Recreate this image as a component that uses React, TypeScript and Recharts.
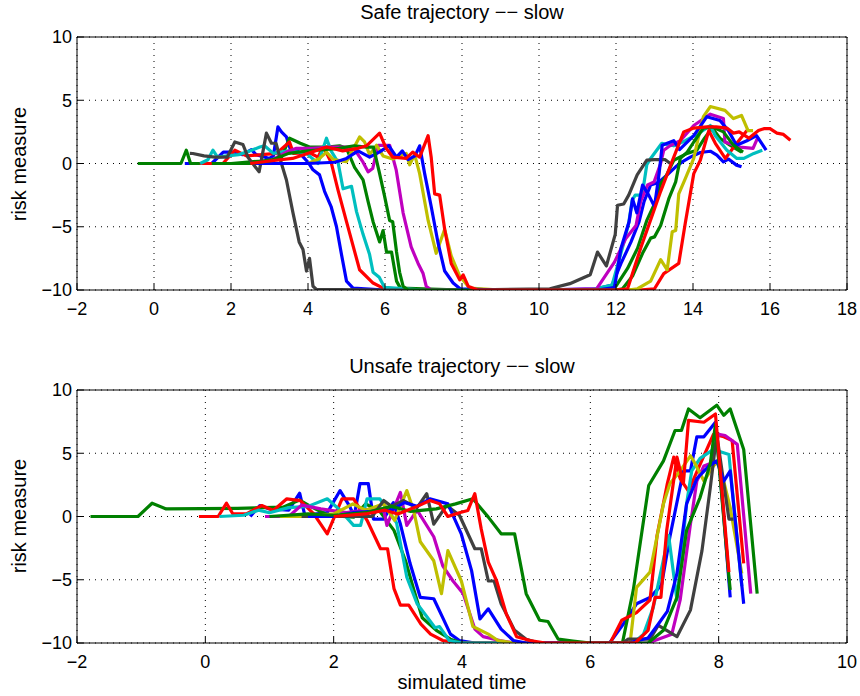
import { CartesianGrid, Line, LineChart, XAxis, YAxis } from "recharts";

type Pt = [number, number];

// axis ticks
const SAFE_X_TICKS = [-2, 0, 2, 4, 6, 8, 10, 12, 14, 16, 18];
const UNSAFE_X_TICKS = [-2, 0, 2, 4, 6, 8, 10];
const Y_TICKS = [-10, -5, 0, 5, 10];

// MATLAB default colour order (k drawn as dark grey)
const B = "#0000ff";
const G = "#008000";
const R = "#ff0000";
const C = "#00bfbf";
const M = "#bf00bf";
const Y = "#bfbf00";
const K = "#404040";

// ---- Safe trajectory: [simulated time, risk measure] ----
const safeBlue1: Pt[] = [
  [0.8, 0], [1.5, 0], [1.8, 0.9], [2.1, 0.9], [2.3, 0.7], [2.53, 1.1], [2.65, 0.7], [3.0, 0.4],
  [3.1, 0.6], [3.22, 2.9], [3.31, 2.5], [3.44, 2.1], [3.55, 1.05], [3.7, 1.1], [3.85, 0.6],
  [4.0, 0.1], [4.13, -0.5], [4.3, -0.9], [4.43, -2.2], [4.6, -3.4], [4.74, -5], [4.87, -7.2],
  [5.0, -9.3], [5.17, -9.85], [6, -10], [10, -10], [11.5, -9.9], [11.9, -9.6], [12.13, -7.9],
  [12.39, -6.2], [12.6, -4.6], [12.73, -3.0], [12.9, -1.7], [13.1, -1.5], [13.33, -0.9],
  [13.55, -0.26], [13.72, 0.13], [13.93, 0.5], [14.19, 0.87], [14.45, 0.97], [14.62, 0.66],
  [14.79, 0.13], [14.92, 0.35], [15.13, -0.13], [15.26, -0.26],
];
const safeGreen1: Pt[] = [
  [-0.42, 0], [0.7, 0], [0.84, 1.05], [0.95, 0], [2, 0], [2.8, 0.2], [3.3, 0.4], [3.52, 2.0],
  [3.8, 1.6], [4.04, 1.3], [4.5, 1.3], [4.82, 1.4], [5.0, 1.2], [5.21, -0.3], [5.43, -1.3],
  [5.56, -3.0], [5.69, -4.6], [5.86, -6.2], [5.95, -5.3], [6.04, -7.0], [6.17, -7.0],
  [6.3, -9.3], [6.4, -9.85], [8, -10], [11.6, -10], [12.0, -9.7], [12.3, -8.3], [12.56, -6.7],
  [12.8, -4.5], [13.03, -3.0], [13.16, -1.6], [13.3, -1.0], [13.5, 0.26], [13.85, 0.8],
  [14.1, 1.05], [14.3, 2.0], [14.5, 2.8], [14.7, 2.0], [14.96, 1.45], [15.26, 0.9],
];
const safeRed1: Pt[] = [
  [1.19, 0], [1.79, 0], [2.1, 1.05], [2.4, 0.6], [2.8, 0.7], [3.18, 0.8], [3.52, 1.7],
  [3.62, 0.8], [4.04, 0.85], [4.26, 0.5], [4.39, 1.3], [4.5, 0.7], [4.6, 0.1], [4.78, -2.1],
  [5.0, -4.6], [5.34, -8.4], [5.69, -9.45], [5.95, -9.85], [7, -10], [12.6, -10], [13.0, -9.9],
  [13.24, -8.7], [13.63, -7.9], [13.8, -4.7], [14.02, -0.8], [14.19, 0.26], [14.41, 2.6],
  [14.58, 1.6], [14.84, 0.4], [15.06, 1.3], [15.4, 2.6],
];
const safeCyan: Pt[] = [
  [1.2, 0], [1.4, 0.3], [1.53, 1.05], [1.65, 0.5], [1.9, 0.6], [2.2, 0.7], [2.5, 1.0],
  [2.75, 1.3], [2.87, 1.4], [3.1, 0.8], [3.5, 1.0], [3.96, 0.8], [4.26, 0], [4.48, 2.0],
  [4.6, 1.0], [4.78, 0.1], [4.91, -2.0], [5.13, -1.8], [5.26, -3.8], [5.43, -5.6], [5.6, -7.2],
  [5.69, -8.6], [5.85, -9.0], [5.99, -9.8], [7, -10], [11.3, -10], [11.9, -9.6], [12.2, -6.3],
  [12.33, -4.7], [12.42, -2.9], [12.5, -2.5], [12.68, -2.5], [12.8, -0.1], [12.9, 0.4],
  [13.19, 1.6], [13.32, 1.5], [13.5, 1.4], [13.8, 1.8], [14.1, 2.3], [14.45, 3.0], [14.58, 2.2],
  [14.88, 1.05], [15.14, 0.4], [15.32, 0.4], [15.58, 0.8], [15.8, 1.05],
];
const safeMagenta: Pt[] = [
  [2.44, 0], [2.9, 0], [3.2, 0.5], [3.44, 0.9], [3.7, 1.2], [4.1, 1.2], [4.6, 1.3], [5.17, 1.3],
  [5.43, 0.1], [5.56, -0.66], [5.68, -0.4], [5.82, 1.44], [6.12, 1.44], [6.29, -0.5],
  [6.47, -3.9], [6.68, -6.6], [6.86, -7.9], [6.99, -8.7], [7.07, -9.7], [7.2, -10], [10, -10],
  [11.5, -9.9], [11.96, -7.8], [12.26, -5.9], [12.52, -4.9], [12.64, -3.0], [12.82, -1.7],
  [12.99, -1.45], [13.16, 0], [13.24, 1.05], [13.4, 1.4], [13.67, 1.8], [14.02, 3.0],
  [14.45, 3.9], [14.79, 3.55], [14.83, 1.7], [15.22, 1.3], [15.56, 1.2], [15.69, 2.1],
];
const safeYellow: Pt[] = [
  [2.92, 0], [4.0, 0], [4.3, 0.4], [4.48, 0.9], [4.66, 0.3], [5.0, 0.15], [5.34, 2.1],
  [5.47, 1.7], [5.6, 0.7], [5.78, 1.44], [5.95, 0.6], [6.2, 0.35], [6.55, 0.8], [6.64, -0.1],
  [6.77, 0.7], [6.9, -0.8], [7.12, -4.5], [7.33, -7.1], [7.55, -5.2], [7.72, -7.3],
  [7.94, -8.9], [8.2, -9.85], [9, -10], [12.3, -10], [12.56, -9.9], [12.9, -9.3], [13.16, -7.6],
  [13.33, -8.4], [13.46, -5.4], [13.55, -5.3], [13.63, -2.4], [13.8, -1.2], [14.02, 0.4],
  [14.15, 2.2], [14.27, 3.7], [14.45, 4.5], [14.83, 4.2], [15.05, 3.55], [15.26, 3.8],
  [15.43, 2.6], [15.56, 2.6],
];
const safeGray: Pt[] = [
  [0.93, 0.8], [1.01, 0.79], [1.3, 0.6], [1.58, 0.5], [1.9, 0.5], [2.1, 1.7], [2.31, 1.5],
  [2.44, 0.5], [2.73, -0.66], [2.92, 2.4], [3.05, 1.6], [3.17, 1.6], [3.31, 0], [3.44, -1.3],
  [3.61, -3.9], [3.77, -6.2], [3.87, -6.8], [3.96, -8.5], [4.04, -7.5], [4.13, -9.7],
  [4.22, -9.95], [6, -10], [8, -10], [10.28, -9.9], [10.8, -9.5], [11.33, -8.8], [11.52, -7.0],
  [11.75, -8.1], [11.98, -5.6], [12.04, -3.3], [12.2, -3.2], [12.33, -2.5], [12.55, -0.9],
  [12.8, 0.26], [13.0, 0.3], [13.28, 0.3], [13.41, 0],
];
const safeBlue2: Pt[] = [
  [2.0, 0], [3.0, 0], [4.0, 0], [4.7, 0.1], [5.0, 0.4], [5.3, 1.0], [5.6, 0.5], [5.85, 0.9],
  [6.1, 1.4], [6.3, 0.5], [6.45, 1.0], [6.6, 0.3], [6.78, 0.6], [6.9, 1.4], [7.03, -0.8],
  [7.2, -3.4], [7.38, -6.3], [7.55, -8.5], [7.77, -9.45], [7.95, -9.9], [9, -10], [11.5, -10],
  [11.96, -9.8], [12.13, -6.7], [12.34, -4.6], [12.43, -2.8], [12.54, -3.9], [12.69, -1.7],
  [12.85, -2.5], [13.0, -3.4], [13.12, -0.8], [13.2, 1.45], [13.33, 1.6], [13.5, 1.8],
  [13.65, 1.1], [14.02, 2.2], [14.36, 3.7], [14.7, 3.4], [14.92, 2.6], [15.13, 1.45],
  [15.4, 1.8], [15.65, 2.2], [15.9, 1.05],
];
const safeGreen2: Pt[] = [
  [1.5, 0], [2.5, 0], [3.0, 0.2], [3.5, 0.8], [4.0, 1.0], [4.8, 1.2], [5.2, 1.4], [5.52, 1.3],
  [5.7, 1.3], [5.86, -0.8], [5.99, -2.6], [6.12, -4.5], [6.2, -4.6], [6.3, -7.0], [6.38, -8.6],
  [6.47, -9.7], [6.6, -10], [8, -10], [12.0, -10], [12.17, -9.9], [12.43, -8.9], [12.69, -7.1],
  [12.9, -5.9], [13.0, -5.8], [13.16, -4.9], [13.37, -2.8], [13.55, -1.45], [13.67, 0.4],
  [13.85, 0.9], [14.02, 1.7], [14.27, 2.8], [14.49, 2.9], [14.79, 2.5], [15.05, 1.45],
  [15.3, 0.9],
];
const safeRed2: Pt[] = [
  [2.5, 0], [3.0, 0.2], [3.6, 0.4], [4.2, 1.0], [4.48, 1.3], [4.9, 1.0], [5.3, 1.2],
  [5.52, 1.4], [5.86, 2.4], [6.03, 1.2], [6.2, 0.5], [6.55, 0.4], [6.72, 0.9], [6.9, 0.5],
  [7.12, 2.2], [7.2, 0.5], [7.29, -2.4], [7.42, -2.5], [7.55, -5.2], [7.72, -7.9],
  [7.94, -9.2], [8.03, -8.8], [8.16, -9.7], [8.4, -10], [12.0, -10], [12.3, -9.9],
  [12.64, -6.7], [12.94, -4.1], [13.16, -2.2], [13.42, -0.13], [13.59, 1.2], [13.76, 2.5],
  [14.02, 2.8], [14.36, 2.9], [14.6, 2.9], [14.88, 2.8], [15.05, 2.4], [15.2, 2.5],
  [15.45, 2.0], [15.7, 2.6], [15.84, 2.75], [16.0, 2.75], [16.18, 2.4], [16.35, 2.3],
  [16.53, 1.84],
];

// ---- Unsafe trajectory ----
const unsafeBlue1: Pt[] = [
  [0.7, 0], [0.85, 0.87], [1.0, 0.6], [1.3, 0.5], [1.47, 1.84], [1.55, 0.1], [1.9, 0.3],
  [2.1, 2.05], [2.25, 0.8], [2.32, 0], [2.41, 2.6], [2.54, 2.6], [2.62, -0.2], [2.78, -0.2],
  [2.93, 1.1], [3.04, -0.6], [3.19, -3.7], [3.35, -6.4], [3.56, -6.5], [3.69, -7.9],
  [3.82, -9.3], [3.96, -9.8], [4.2, -10], [6.3, -10], [6.5, -8.6], [6.72, -6.9], [6.93, -6.4],
  [7.11, -5.4], [7.24, -1.6], [7.45, 3.6], [7.56, 3.6], [7.66, 6.3], [7.77, 6.3], [7.95, 7.45],
  [8.08, 0], [8.18, -6.4],
];
const unsafeGreen1: Pt[] = [
  [-1.79, 0], [-1.05, 0], [-0.83, 1.05], [-0.61, 0.6], [0.5, 0.65], [1.21, 0.74], [1.47, 1.3],
  [1.66, 0.74], [1.92, 0.08], [2.31, -0.05], [2.5, 1.0], [2.73, 0.34], [2.94, -1.1],
  [3.12, -3.5], [3.25, -5.8], [3.38, -8.0], [3.6, -9.0], [3.82, -9.7], [4.0, -10], [6.5, -10],
  [6.67, -5.8], [6.91, 2.45], [7.14, 4.4], [7.32, 6.8], [7.42, 6.8], [7.53, 8.5], [7.71, 7.8],
  [7.97, 8.8], [8.08, 8.0], [8.18, 8.5], [8.39, 5.3], [8.6, -6.1],
];
const unsafeRed1: Pt[] = [
  [-0.1, 0], [0.2, 0], [0.33, 1.05], [0.43, 0.2], [0.64, 0.2], [0.88, 0.87], [1.06, 0.47],
  [1.27, 1.4], [1.48, 1.26], [1.69, 0.2], [1.9, -1.37], [2.13, 1.4], [2.31, 1.4], [2.52, -0.3],
  [2.73, -2.55], [2.84, -2.55], [2.94, -5.7], [3.04, -7.0], [3.17, -7.0], [3.36, -8.5],
  [3.51, -9.3], [3.7, -9.8], [4.0, -10], [6.31, -10], [6.49, -8.2], [6.72, -7.6], [6.93, -6.6],
  [7.04, -1.5], [7.2, 2.6], [7.3, 4.7], [7.4, 3.0], [7.53, 2.0], [7.7, 4.0], [7.92, 6.5],
  [8.08, 6.3], [8.21, 6.0], [8.39, -3.7],
];
const unsafeCyan: Pt[] = [
  [0.22, 0], [0.6, 0.1], [0.83, 0.5], [1.0, 0.3], [1.3, 0.7], [1.6, 0.8], [1.9, 1.4],
  [2.1, 0.5], [2.31, -0.7], [2.42, -0.7], [2.52, 1.4], [2.72, 1.4], [2.98, -0.5], [3.14, -4.8],
  [3.3, -6.9], [3.45, -7.9], [3.58, -8.8], [3.65, -8.7], [3.8, -9.8], [4.0, -10], [6.67, -10],
  [6.83, -9.3], [6.98, -7.2], [7.22, -1.5], [7.35, -6.6], [7.5, 1.0], [7.58, 3.6], [7.71, 4.6],
  [7.92, 5.3], [8.16, 4.9], [8.36, -5.5],
];
const unsafeMagenta: Pt[] = [
  [0.93, 0], [1.3, 0], [1.5, 0.9], [1.8, 0.6], [2.2, 0.3], [2.6, 0.6], [2.78, 0.5],
  [2.83, -0.7], [3.04, 1.9], [3.14, -0.7], [3.3, 0.5], [3.56, -1.6], [3.7, -3.9], [3.86, -5.1],
  [4.02, -6.1], [4.2, -8.9], [4.33, -9.5], [4.59, -9.8], [4.8, -10], [6.9, -10], [7.27, -9.3],
  [7.4, -6.6], [7.56, -0.6], [7.66, 2.8], [7.77, 4.0], [7.87, 4.2], [8.0, 6.5], [8.1, 6.4],
  [8.29, 5.7], [8.5, -6.1],
];
const unsafeYellow: Pt[] = [
  [1.16, 0], [1.5, 0], [2.0, 0.2], [2.3, 1.0], [2.5, 0.5], [2.78, 1.0], [2.95, -0.3],
  [3.14, 2.05], [3.25, 0.4], [3.35, -2.0], [3.56, -3.5], [3.68, -6.1], [3.78, -2.7],
  [3.99, -5.1], [4.17, -8.7], [4.41, -9.3], [4.56, -9.8], [4.8, -10], [6.62, -10], [6.72, -5.6],
  [6.93, -4.4], [7.14, 1.0], [7.24, 2.6], [7.4, 3.6], [7.56, 4.8], [7.62, 4.3], [7.77, 2.8],
  [7.92, 4.0], [8.0, 4.4], [8.18, 0.7], [8.36, -4.5],
];
const unsafeGray: Pt[] = [
  [1.5, 0], [2.6, 0], [2.78, 1.26], [2.9, 0.8], [3.09, 1.26], [3.3, 0.7], [3.45, 1.8],
  [3.56, -0.6], [3.76, 0.87], [3.96, 0.1], [4.2, -2.55], [4.3, -2.55], [4.41, -5.1],
  [4.5, -5.1], [4.61, -6.9], [4.82, -9.0], [5.0, -9.7], [5.2, -10], [6.5, -10], [6.59, -9.7],
  [6.93, -9.7], [7.06, -8.6], [7.35, -9.5], [7.56, -7.4], [7.74, -2.7], [7.87, 2.3],
  [7.97, 6.5], [8.16, -0.2], [8.23, -0.2],
];
const unsafeBlue2: Pt[] = [
  [1.6, 0], [2.0, 0], [2.3, 0.3], [2.6, 0.4], [2.9, 0.5], [3.1, 1.1], [3.3, 0.8], [3.5, 1.4],
  [3.78, 1.0], [3.99, -1.4], [4.15, -4.3], [4.28, -8.1], [4.41, -7.3], [4.61, -8.9],
  [4.8, -9.8], [5.0, -10], [6.6, -10], [6.9, -9.6], [7.06, -8.5], [7.2, -7.5], [7.35, -4.5],
  [7.5, 1.0], [7.66, 3.0], [7.85, 4.0], [7.97, 4.4], [8.08, 2.8], [8.18, 3.6], [8.39, -6.9],
];
const unsafeGreen2: Pt[] = [
  [1.0, 0], [1.6, 0.2], [2.0, 0.1], [2.5, 0.3], [2.9, 0.8], [3.2, 0.4], [3.6, 0.6], [3.9, 1.0],
  [4.17, 1.4], [4.41, -0.05], [4.61, -1.37], [4.82, -1.37], [5.0, -6.1], [5.21, -8.2],
  [5.34, -8.3], [5.5, -9.7], [5.73, -9.85], [6.0, -10], [6.9, -10], [7.14, -9.0], [7.35, -6.4],
  [7.5, -1.1], [7.71, 1.5], [7.87, 4.2], [7.95, 7.3], [8.16, -4.8], [8.18, -5.8],
];
const unsafeRed2: Pt[] = [
  [2.0, 0], [2.5, 0.2], [2.8, 0.5], [3.0, 0.2], [3.3, 0.8], [3.5, 1.26], [3.65, 1.0],
  [3.78, 0], [3.96, 0.3], [4.09, 0.47], [4.2, 1.8], [4.3, -1.0], [4.41, -3.6], [4.54, -5.1],
  [4.69, -7.7], [4.85, -9.5], [5.06, -9.8], [5.3, -10], [6.7, -10], [6.9, -9.0], [7.01, -6.4],
  [7.1, -6.4], [7.19, -1.1], [7.35, 4.7], [7.45, 2.6], [7.53, 7.6], [7.77, 7.45], [7.95, 8.1],
  [8.16, -4.4],
];

interface Series {
  color: string;
  pts: Pt[];
}

// plotted in MATLAB order: b g r c m y k b g r
const SAFE: Series[] = [
  { color: B, pts: safeBlue1 },
  { color: G, pts: safeGreen1 },
  { color: R, pts: safeRed1 },
  { color: C, pts: safeCyan },
  { color: M, pts: safeMagenta },
  { color: Y, pts: safeYellow },
  { color: K, pts: safeGray },
  { color: B, pts: safeBlue2 },
  { color: G, pts: safeGreen2 },
  { color: R, pts: safeRed2 },
];

const UNSAFE: Series[] = [
  { color: B, pts: unsafeBlue1 },
  { color: G, pts: unsafeGreen1 },
  { color: R, pts: unsafeRed1 },
  { color: C, pts: unsafeCyan },
  { color: M, pts: unsafeMagenta },
  { color: Y, pts: unsafeYellow },
  { color: K, pts: unsafeGray },
  { color: B, pts: unsafeBlue2 },
  { color: G, pts: unsafeGreen2 },
  { color: R, pts: unsafeRed2 },
];

const minus = (v: number) => String(v).replace("-", "\u2212");
const tickStyle = { fontSize: 18, fill: "#000" };

interface PanelProps {
  series: Series[];
  xTicks: number[];
  top: number;
  height: number;
  marginTop: number;
  marginBottom: number;
}

function Panel({ series, xTicks, top, height, marginTop, marginBottom }: PanelProps) {
  const xDomain = [xTicks[0], xTicks[xTicks.length - 1]];
  return (
    <div style={{ position: "absolute", left: 0, top }}>
      <LineChart
        width={860}
        height={height}
        margin={{ top: marginTop, right: 13, bottom: marginBottom, left: 0 }}
      >
        <CartesianGrid stroke="#000" strokeDasharray="1 5" strokeWidth={1} />
        <XAxis
          type="number"
          dataKey="x"
          domain={xDomain}
          ticks={xTicks}
          allowDataOverflow
          height={30}
          tickSize={-6}
          tickMargin={18}
          tick={tickStyle}
          tickFormatter={minus}
          stroke="#000"
        />
        <XAxis
          xAxisId="top"
          orientation="top"
          mirror
          type="number"
          dataKey="x"
          domain={xDomain}
          ticks={xTicks}
          allowDataOverflow
          tick={false}
          tickSize={6}
          stroke="#000"
        />
        <YAxis
          type="number"
          domain={[-10, 10]}
          ticks={Y_TICKS}
          allowDataOverflow
          width={77}
          tickSize={-6}
          tickMargin={11}
          tick={tickStyle}
          tickFormatter={minus}
          stroke="#000"
        />
        <YAxis
          yAxisId="right"
          orientation="right"
          mirror
          type="number"
          domain={[-10, 10]}
          ticks={Y_TICKS}
          allowDataOverflow
          tick={false}
          tickSize={6}
          stroke="#000"
        />
        {series.map((s, i) => (
          <Line
            key={i}
            data={s.pts.map(([x, y]) => ({ x, y }))}
            dataKey="y"
            type="linear"
            stroke={s.color}
            strokeWidth={3.2}
            strokeLinejoin="round"
            dot={false}
            isAnimationActive={false}
          />
        ))}
      </LineChart>
    </div>
  );
}

const textBox = {
  position: "absolute" as const,
  fontSize: 20,
  lineHeight: "22px",
  color: "#000",
  whiteSpace: "nowrap" as const,
};

export default function App() {
  return (
    <div
      style={{
        position: "absolute",
        left: 0,
        top: 0,
        width: 860,
        height: 696,
        background: "#fff",
        fontFamily: "'Liberation Sans', Arial, Helvetica, sans-serif",
        overflow: "hidden",
      }}
    >
      <Panel series={SAFE} xTicks={SAFE_X_TICKS} top={0} height={340} marginTop={37} marginBottom={20} />
      <Panel series={UNSAFE} xTicks={UNSAFE_X_TICKS} top={350} height={346} marginTop={40} marginBottom={23} />

      <div style={{ ...textBox, left: 77, width: 770, top: 1, textAlign: "center" }}>
        Safe trajectory {"\u2212\u2212"} slow
      </div>
      <div style={{ ...textBox, left: 77, width: 770, top: 355, textAlign: "center" }}>
        Unsafe trajectory {"\u2212\u2212"} slow
      </div>
      <div style={{ ...textBox, left: 77, width: 770, top: 671, textAlign: "center" }}>
        simulated time
      </div>
      <div style={{ ...textBox, left: 19, top: 164, transform: "translate(-50%, -50%) rotate(-90deg)" }}>
        risk measure
      </div>
      <div style={{ ...textBox, left: 19, top: 516, transform: "translate(-50%, -50%) rotate(-90deg)" }}>
        risk measure
      </div>
    </div>
  );
}
